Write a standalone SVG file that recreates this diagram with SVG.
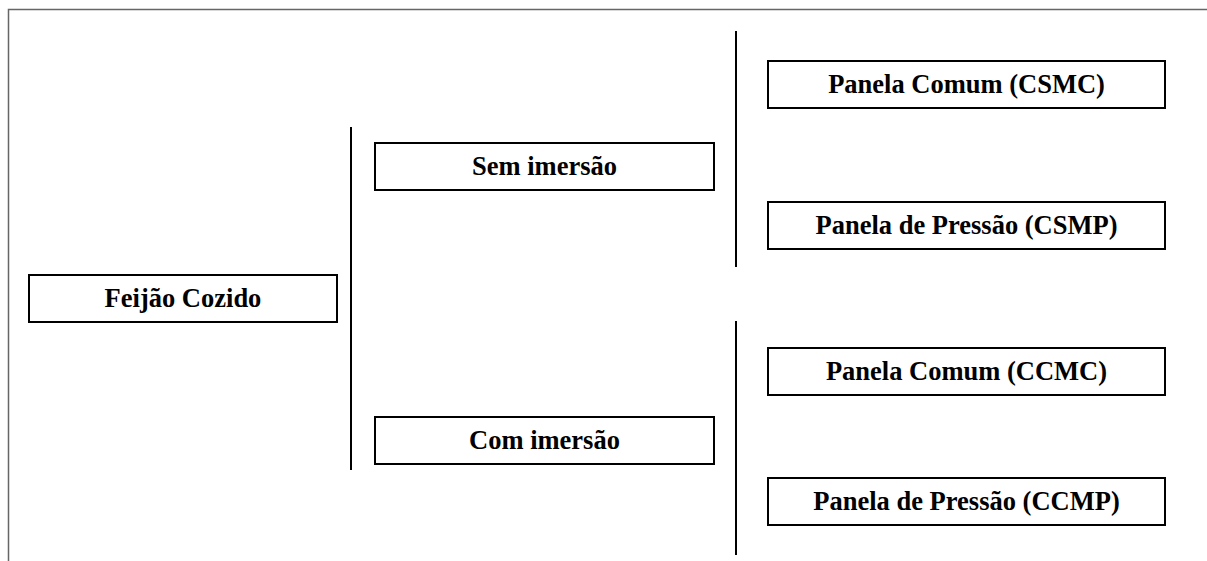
<svg xmlns="http://www.w3.org/2000/svg" width="1207" height="561" viewBox="0 0 1207 561">
<style>
.box{fill:#fff;stroke:#000;stroke-width:2}
.lbl{font-family:"Liberation Serif","Times New Roman",serif;font-weight:bold;font-size:26.5px;fill:#000;text-anchor:middle}
.ln{stroke:#000;stroke-width:2;fill:none}
.frame{stroke:#666;stroke-width:1.5;fill:none}
</style>
<rect width="1207" height="561" fill="#fff"/>
<path class="frame" d="M8.5,561 V9.5 H1207"/>
<g id="connectors">
<line class="ln" x1="351" y1="127" x2="351" y2="470"/>
<line class="ln" x1="736" y1="31" x2="736" y2="267"/>
<line class="ln" x1="736" y1="321" x2="736" y2="555"/>
</g>
<g id="feijao"><rect class="box" x="29" y="275" width="308" height="47"/><text class="lbl" x="183" y="307">Feijão Cozido</text></g>
<g id="sem"><rect class="box" x="375" y="143" width="339" height="47"/><text class="lbl" x="544.5" y="175">Sem imersão</text></g>
<g id="com"><rect class="box" x="375" y="417" width="339" height="47"/><text class="lbl" x="544.5" y="449">Com imersão</text></g>
<g id="csmc"><rect class="box" x="768" y="61" width="397" height="47"/><text class="lbl" x="966.5" y="93">Panela Comum (CSMC)</text></g>
<g id="csmp"><rect class="box" x="768" y="202" width="397" height="47"/><text class="lbl" x="966.5" y="234">Panela de Pressão (CSMP)</text></g>
<g id="ccmc"><rect class="box" x="768" y="348" width="397" height="47"/><text class="lbl" x="966.5" y="380">Panela Comum (CCMC)</text></g>
<g id="ccmp"><rect class="box" x="768" y="478" width="397" height="47"/><text class="lbl" x="966.5" y="510">Panela de Pressão (CCMP)</text></g>
</svg>
